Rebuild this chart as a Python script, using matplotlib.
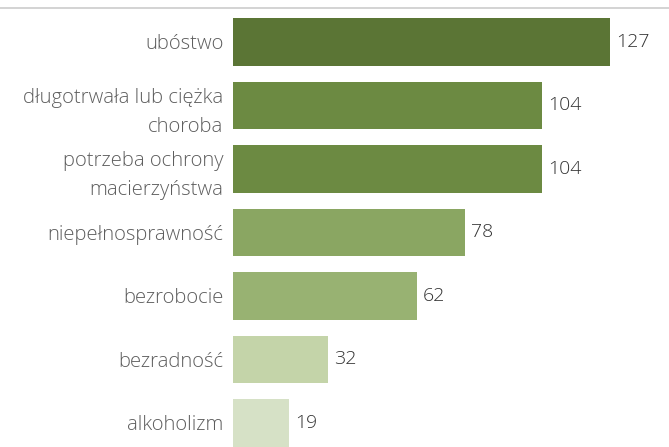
import matplotlib.pyplot as plt
from matplotlib.lines import Line2D

categories = ['ubóstwo', 'długotrwała lub ciężka\nchoroba', 'potrzeba ochrony\nmacierzyństwa',
              'niepełnosprawność', 'bezrobocie', 'bezradność', 'alkoholizm']
values = [127, 104, 104, 78, 62, 32, 19]
colors = ['#5b7535', '#6c8a42', '#6c8a42', '#8aa662', '#98b272', '#c4d4a9', '#d6e1c6']

plt.rcParams['font.family'] = ['Open Sans', 'DejaVu Sans']

fig = plt.figure(figsize=(6.69, 4.47), dpi=100)
ax = fig.add_axes([233 / 669, 0, 1 - 233 / 669, 1 - 8 / 447])

y = range(len(values))
ax.barh(y, values, height=0.75, color=colors)
ax.set_xlim(0, 436 / 2.97)
ax.set_ylim(6.378, -0.535)

for i, v in enumerate(values):
    ax.text(v + 2, i, str(v), va='center', ha='left', fontsize=14, color='#333333',
            fontweight='light')

ax.set_yticks(list(y))
ax.set_yticklabels(categories, fontsize=14.6, color='#5e5e5e', linespacing=1.6, ha='right',
                   fontweight='light')
ax.tick_params(axis='y', length=0, pad=7)
ax.set_xticks([])
for s in ax.spines.values():
    s.set_visible(False)

fig.add_artist(Line2D([0, 1], [1 - 8 / 447, 1 - 8 / 447], color='#cccccc', lw=1.2,
                      transform=fig.transFigure))

fig.savefig('out.png', dpi=100)
